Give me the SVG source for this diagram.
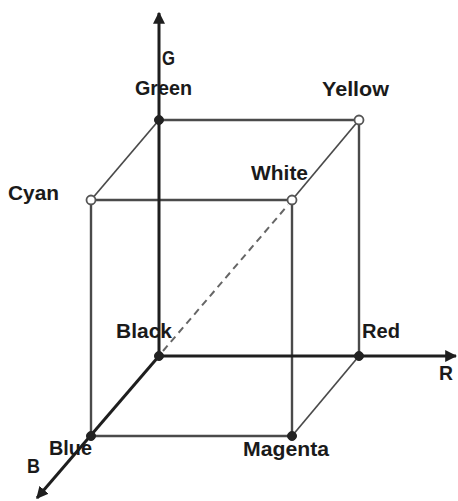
<svg xmlns="http://www.w3.org/2000/svg" width="458" height="501" viewBox="0 0 458 501">
<defs>
<style>
.axis{stroke:#1e1e1e;stroke-width:3;fill:none}
.edge{stroke:#4a4a4a;stroke-width:2.4;fill:none}
.thin{stroke:#4a4a4a;stroke-width:1.7;fill:none}
.dash{stroke:#666;stroke-width:2;stroke-dasharray:7,5;fill:none}
.dot{fill:#222;stroke:#222;stroke-width:1}
.open{fill:#fff;stroke:#555;stroke-width:1.8}
text{font-family:"Liberation Sans",Arial,sans-serif;font-weight:bold;font-size:21px;fill:#1a1a1a}
</style>
<marker id="arr" viewBox="0 0 10 10" refX="9" refY="5" markerWidth="4" markerHeight="4" orient="auto" markerUnits="strokeWidth">
<path d="M0,0 L10,5 L0,10 z" fill="#1e1e1e"/>
</marker>
</defs>
<rect width="458" height="501" fill="#fff"/>
<g id="connectors">
<line class="edge" x1="159" y1="120" x2="359" y2="120"/>
<line class="thin" x1="159" y1="120" x2="91" y2="200"/>
<line class="thin" x1="359" y1="120" x2="292" y2="200"/>
<line class="edge" x1="91" y1="200" x2="292" y2="200"/>
<line class="edge" x1="91" y1="200" x2="91" y2="436"/>
<line class="edge" x1="292" y1="200" x2="292" y2="436"/>
<line class="edge" x1="359" y1="120" x2="359" y2="356"/>
<line class="edge" x1="91" y1="436" x2="292" y2="436"/>
<line class="thin" x1="292" y1="436" x2="359" y2="356"/>
<line class="dash" x1="163" y1="351" x2="288" y2="205"/>
<line class="axis" x1="159" y1="356" x2="159" y2="13" marker-end="url(#arr)"/>
<line class="axis" x1="159" y1="356" x2="456" y2="356" marker-end="url(#arr)"/>
<line class="axis" x1="159" y1="356" x2="37" y2="498" marker-end="url(#arr)"/>
</g>
<g id="black"><circle class="dot" cx="159" cy="356" r="4.5"/><text x="116" y="338" textLength="56" lengthAdjust="spacingAndGlyphs">Black</text></g>
<g id="red"><circle class="dot" cx="359" cy="356" r="4.5"/><text x="362" y="338" textLength="38" lengthAdjust="spacingAndGlyphs">Red</text></g>
<g id="green"><circle class="dot" cx="159" cy="120" r="4.5"/><text x="135" y="95" textLength="57" lengthAdjust="spacingAndGlyphs">Green</text></g>
<g id="yellow"><circle class="open" cx="359" cy="120" r="4.5"/><text x="322" y="96" textLength="67" lengthAdjust="spacingAndGlyphs">Yellow</text></g>
<g id="cyan"><circle class="open" cx="91" cy="200" r="4.5"/><text x="8" y="200" textLength="51" lengthAdjust="spacingAndGlyphs">Cyan</text></g>
<g id="white"><circle class="open" cx="292" cy="200" r="4.5"/><text x="251" y="180" textLength="57" lengthAdjust="spacingAndGlyphs">White</text></g>
<g id="blue"><circle class="dot" cx="91" cy="436" r="4.5"/><text x="49" y="455" textLength="43" lengthAdjust="spacingAndGlyphs">Blue</text></g>
<g id="magenta"><circle class="dot" cx="292" cy="436" r="4.5"/><text x="243" y="456" textLength="86" lengthAdjust="spacingAndGlyphs">Magenta</text></g>
<g id="axis-labels">
<text x="162" y="65" textLength="13" lengthAdjust="spacingAndGlyphs">G</text>
<text x="439" y="380" textLength="14" lengthAdjust="spacingAndGlyphs">R</text>
<text x="27" y="473" textLength="13" lengthAdjust="spacingAndGlyphs">B</text>
</g>
</svg>
